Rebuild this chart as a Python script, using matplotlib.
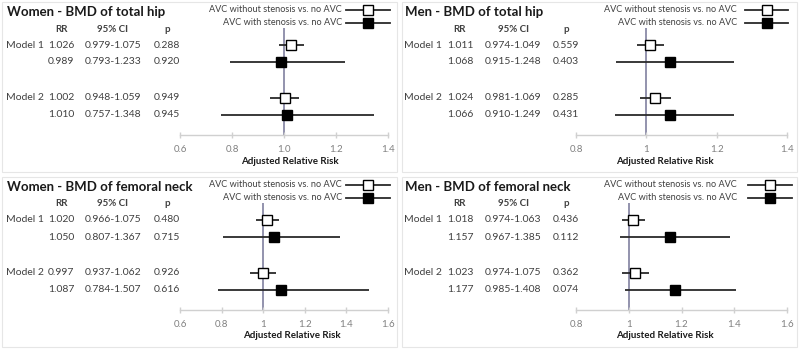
import matplotlib
matplotlib.use("Agg")
import matplotlib.pyplot as plt
from matplotlib.patches import Rectangle
from matplotlib.lines import Line2D
import matplotlib.transforms as mtransforms

plt.rcParams['font.family'] = ['Lato', 'DejaVu Sans']

W, H = 800, 350

titles = ["Women - BMD of total hip", "Men - BMD of total hip",
          "Women - BMD of femoral neck", "Men - BMD of femoral neck"]
row_labels = ["Model 1", "", "Model 2", ""]
legend_labels = ["AVC without stenosis vs. no AVC", "AVC with stenosis vs. no AVC"]

rr_women_hip = [1.026, 0.989, 1.002, 1.010]
lo_women_hip = [0.979, 0.793, 0.948, 0.757]
hi_women_hip = [1.075, 1.233, 1.059, 1.348]
p_women_hip = ["0.288", "0.920", "0.949", "0.945"]

rr_men_hip = [1.011, 1.068, 1.024, 1.066]
lo_men_hip = [0.974, 0.915, 0.981, 0.910]
hi_men_hip = [1.049, 1.248, 1.069, 1.249]
p_men_hip = ["0.559", "0.403", "0.285", "0.431"]

rr_women_neck = [1.020, 1.050, 0.997, 1.087]
lo_women_neck = [0.966, 0.807, 0.937, 0.784]
hi_women_neck = [1.075, 1.367, 1.062, 1.507]
p_women_neck = ["0.480", "0.715", "0.926", "0.616"]

rr_men_neck = [1.018, 1.157, 1.023, 1.177]
lo_men_neck = [0.974, 0.967, 0.974, 0.985]
hi_men_neck = [1.063, 1.385, 1.075, 1.408]
p_men_neck = ["0.436", "0.112", "0.362", "0.074"]

ticks_women_hip = ["0.6", "0.8", "1.0", "1.2", "1.4"]
ticks_men_hip = ["0.8", "1", "1.2", "1.4"]
ticks_women_neck = ["0.6", "0.8", "1", "1.2", "1.4", "1.6"]
ticks_men_neck = ["0.8", "1", "1.2", "1.4", "1.6"]

panels = [
    (rr_women_hip, lo_women_hip, hi_women_hip, p_women_hip, ticks_women_hip),
    (rr_men_hip, lo_men_hip, hi_men_hip, p_men_hip, ticks_men_hip),
    (rr_women_neck, lo_women_neck, hi_women_neck, p_women_neck, ticks_women_neck),
    (rr_men_neck, lo_men_neck, hi_men_neck, p_men_neck, ticks_men_neck),
]

# layout (pixels)
offsets = [(0, 0), (400, 0), (0, 175), (400, 175)]
axis_px = [(180, 388), (576, 787), (180, 388), (576, 787)]
text_x = [(6, 61, 113, 167), (404, 460, 513, 566), (6, 61, 113, 167), (404, 460, 513, 566)]
leg_px = [(342, 346, 390), (737, 745, 788), (342, 346, 390), (737, 748, 792)]
xlabel_x = [290, 665, 292, 665]
row_pos = [0, 1, 3.1, 4.1]   # row slots
ROW_PX0 = 45
ROW_STEP = 17
AX_TOP = 28
AX_BOT = 135

TXT = "#404040"
GRID = "#d0d0d0"

fig = plt.figure(figsize=(W / 100, H / 100), dpi=100)
fig.patch.set_facecolor("white")


def fx(x):
    return x / W


def fy(y):
    return 1 - y / H


for i, (rr, lo, hi, pv, tl) in enumerate(panels):
    ox, oy = offsets[i]
    # panel border
    fig.add_artist(Rectangle((fx(ox + 2), fy(oy + 172)), fx(395), 170 / H,
                             transform=fig.transFigure, fill=False,
                             edgecolor="#e6e6e6", linewidth=0.8))
    x0, x1 = axis_px[i]
    ax = fig.add_axes([fx(x0), fy(oy + AX_BOT), fx(x1 - x0), (AX_BOT - AX_TOP) / H])
    ax.patch.set_alpha(0)
    ticks = [float(t) for t in tl]
    ax.set_xlim(ticks[0], ticks[-1])
    ax.set_ylim((AX_BOT - ROW_PX0) / ROW_STEP, (AX_TOP - ROW_PX0) / ROW_STEP)
    for s in ["top", "left", "right"]:
        ax.spines[s].set_visible(False)
    ax.spines["bottom"].set_color(GRID)
    ax.spines["bottom"].set_linewidth(1.0)
    ax.set_yticks([])
    ax.set_xticks(ticks)
    ax.set_xticklabels(tl)
    ax.tick_params(axis="x", direction="inout", length=5, width=1.0, color=GRID,
                   labelcolor="#808080", labelsize=7, pad=5)
    ax.axvline(1.0, color="#8080a0", linewidth=1.2, zorder=1)
    for k in range(4):
        y = row_pos[k]
        ax.plot([lo[k], hi[k]], [y, y], color="#2a2a2a", linewidth=1.3, zorder=2,
                solid_capstyle="butt")
        face = "white" if k % 2 == 0 else "black"
        ax.plot([rr[k]], [y], marker="s", markersize=6.5, markerfacecolor=face,
                markeredgecolor="black", markeredgewidth=1.0, zorder=3)

    # texts
    tr = mtransforms.blended_transform_factory(fig.transFigure, ax.transData)
    mx, rx, cx, px = text_x[i]
    fig.text(fx(mx + 1), fy(oy + 12), titles[i], fontsize=9.5, fontweight="bold",
             color="#1a1a1a", ha="left", va="center")
    hy = (29 - ROW_PX0) / ROW_STEP
    for xx, lab in [(rx, "RR"), (cx, "95% CI"), (px, "p")]:
        ax.text(fx(xx), hy, lab, transform=tr, fontsize=7, fontweight="bold",
                color=TXT, ha="center", va="center")
    for k in range(4):
        y = row_pos[k]
        if row_labels[k]:
            ax.text(fx(mx), y, row_labels[k], transform=tr, fontsize=7.5, color=TXT,
                    ha="left", va="center")
        ax.text(fx(rx), y, f"{rr[k]:.3f}", transform=tr, fontsize=7.5, color=TXT,
                ha="center", va="center")
        ax.text(fx(cx), y, f"{lo[k]:.3f}-{hi[k]:.3f}", transform=tr, fontsize=7.5,
                color=TXT, ha="center", va="center")
        ax.text(fx(px), y, pv[k], transform=tr, fontsize=7.5, color=TXT,
                ha="center", va="center")

    fig.text(fx(xlabel_x[i]), fy(oy + 161), "Adjusted Relative Risk", fontsize=7,
             fontweight="bold", color="#1a1a1a", ha="center", va="center")

    # legend
    tend, l0, l1 = leg_px[i]
    for j, lab in enumerate(legend_labels):
        ly = oy + 9.5 + 13 * j
        fig.text(fx(tend), fy(ly), lab, fontsize=6.6, color=TXT, ha="right", va="center")
        fig.add_artist(Line2D([fx(l0), fx(l1)], [fy(ly), fy(ly)], transform=fig.transFigure,
                              color="#2a2a2a", linewidth=1.3))
        face = "white" if j == 0 else "black"
        fig.add_artist(Line2D([fx((l0 + l1) / 2)], [fy(ly)], transform=fig.transFigure,
                              marker="s", markersize=6.5, markerfacecolor=face,
                              markeredgecolor="black", markeredgewidth=1.0,
                              linestyle="none"))

fig.savefig("out.png", dpi=100, facecolor="white")
